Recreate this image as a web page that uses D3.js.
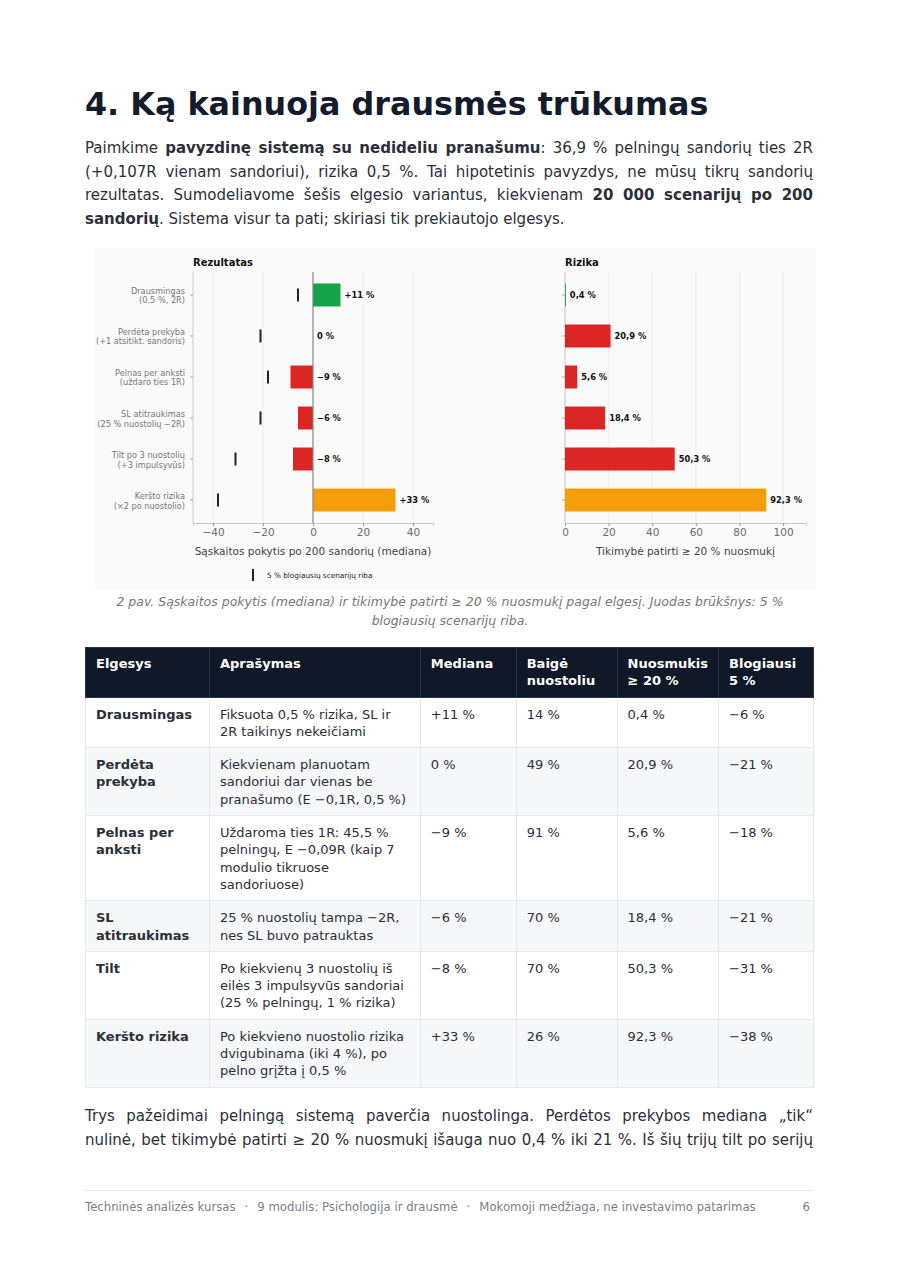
<!DOCTYPE html>
<html lang="lt">
<head>
<meta charset="utf-8">
<script src="https://cdn.jsdelivr.net/npm/d3@7"></script>
<style>
  body { margin: 0; background: #fff; width: 900px; height: 1273px; position: relative;
         font-family: "DejaVu Sans", sans-serif; color: #2b2f38; }
  h1 { position: absolute; left: 85px; top: 85px; margin: 0;
       font-size: 31.8px; font-weight: bold; color: #141b2d; }
  p.txt { position: absolute; left: 85px; width: 728px; margin: 0; font-size: 15px; line-height: 23.5px;
          text-align: justify; }
  #fig { position: absolute; left: 0; top: 248px; }
  .cap { position: absolute; left: 95px; width: 710px; top: 592px; text-align: center; font-style: italic;
         font-size: 12.5px; line-height: 19px; color: #777; }
  table { position: absolute; left: 85px; top: 647px; width: 729px; border-collapse: collapse; font-size: 13px; line-height: 17.3px; }
  th { background: #111827; color: #fff; text-align: left; vertical-align: top; font-weight: bold;
       padding: 7px 10px 7px 10px; border: 1px solid #2c3444; }
  td { vertical-align: top; padding: 8px 10px 7px 10px; border: 1px solid #e5e7eb; }
  tr.alt td { background: #f6f7f9; }
  td.b { font-weight: bold; }
  .foot { position: absolute; left: 85px; width: 728px; top: 1190px; border-top: 1px solid #e5e7eb;
          padding-top: 9px; font-size: 11.7px; color: #7a7f88; }
  .foot span.sep { padding: 0 9px; }
  .foot span.pg { position: absolute; right: 3px; top: 9px; }
</style>
</head>
<body>
<script>
// behaviours (rows of chart and table)
const names = ["Drausmingas", "Perdėta prekyba", "Pelnas per anksti", "SL atitraukimas", "Tilt", "Keršto rizika"];
const chartLabels = [
  ["Drausmingas", "(0.5 %, 2R)"],
  ["Perdėta prekyba", "(+1 atsitikt. sandoris)"],
  ["Pelnas per anksti", "(uždaro ties 1R)"],
  ["SL atitraukimas", "(25 % nuostolių −2R)"],
  ["Tilt po 3 nuostolių", "(+3 impulsyvūs)"],
  ["Keršto rizika", "(×2 po nuostolio)"]
];
const median = [11, 0, -9, -6, -8, 33];          // % account change, median
const worst5 = [-6, -21, -18, -21, -31, -38];     // 5 % worst scenario
const ddProb = [0.4, 20.9, 5.6, 18.4, 50.3, 92.3]; // P(drawdown >= 20 %)
const lossProb = [14, 49, 91, 70, 70, 26];
const barColors = ["#16a34a", "#dc2626", "#dc2626", "#dc2626", "#dc2626", "#f59e0b"];
const leftTicks = [-40, -20, 0, 20, 40];
const rightTicks = [0, 20, 40, 60, 80, 100];
const descr = [
  "Fiksuota 0,5 % rizika, SL ir 2R taikinys nekeičiami",
  "Kiekvienam planuotam sandoriui dar vienas be pranašumo (E −0,1R, 0,5 %)",
  "Uždaroma ties 1R: 45,5 % pelningų, E −0,09R (kaip 7 modulio tikruose sandoriuose)",
  "25 % nuostolių tampa −2R, nes SL buvo patrauktas",
  "Po kiekvienų 3 nuostolių iš eilės 3 impulsyvūs sandoriai (25 % pelningų, 1 % rizika)",
  "Po kiekvieno nuostolio rizika dvigubinama (iki 4 %), po pelno grįžta į 0,5 %"
];
const headers = ["Elgesys", "Aprašymas", "Mediana", "Baigė nuostoliu", "Nuosmukis ≥ 20 %", "Blogiausi 5 %"];
const footParts = ["Techninės analizės kursas", "9 modulis: Psichologija ir drausmė", "Mokomoji medžiaga, ne investavimo patarimas"];

const fmtPct = v => (v > 0 ? "+" : v < 0 ? "−" : "") + Math.abs(v) + " %";
const fmtDec = v => String(v).replace(".", ",") + " %";

const body = d3.select("body");
body.append("h1").text("4. Ką kainuoja drausmės trūkumas");
body.append("p").attr("class", "txt").style("top", "137px")
  .html("Paimkime <b>pavyzdinę sistemą su nedideliu pranašumu</b>: 36,9 % pelningų sandorių ties 2R (+0,107R vienam sandoriui), rizika 0,5 %. Tai hipotetinis pavyzdys, ne mūsų tikrų sandorių rezultatas. Sumodeliavome šešis elgesio variantus, kiekvienam <b>20 000 scenarijų po 200 sandorių</b>. Sistema visur ta pati; skiriasi tik prekiautojo elgesys.");

// ---- figure ----
const svg = body.append("svg").attr("id", "fig").attr("width", 900).attr("height", 345);
svg.append("rect").attr("x", 95).attr("y", 0).attr("width", 721).attr("height", 342).attr("fill", "#fafafa");

const yTop = 24, yBot = 275;
const y = d3.scaleBand().domain(d3.range(names.length)).range([yTop, yBot]).paddingInner(0.44).paddingOuter(0.28);

function panel(x, ticks, title, xlabel) {
  const g = svg.append("g");
  const [x0, x1] = x.range();
  g.selectAll("line.grid").data(ticks).join("line")
    .attr("x1", d => x(d)).attr("x2", d => x(d)).attr("y1", yTop).attr("y2", yBot)
    .attr("stroke", "#ececec").attr("stroke-width", 0.8);
  const ax = g.append("g").attr("transform", `translate(0,${yBot})`)
    .call(d3.axisBottom(x).tickValues(ticks).tickSize(3).tickPadding(3).tickFormat(d => d < 0 ? "−" + (-d) : d));
  ax.select(".domain").attr("stroke", "#c8c8c8");
  ax.selectAll(".tick line").attr("stroke", "#999");
  ax.selectAll("text").attr("fill", "#6b6b6b").attr("font-family", "DejaVu Sans").attr("font-size", 10.5);
  g.append("line").attr("x1", x0).attr("x2", x0).attr("y1", yTop).attr("y2", yBot).attr("stroke", "#c8c8c8");
  g.selectAll("line.yt").data(d3.range(names.length)).join("line")
    .attr("x1", x0 - 3).attr("x2", x0).attr("y1", i => y(i) + y.bandwidth() / 2).attr("y2", i => y(i) + y.bandwidth() / 2)
    .attr("stroke", "#999").attr("stroke-width", 0.8);
  g.append("text").attr("x", x0).attr("y", 18).attr("font-family", "DejaVu Sans").attr("font-weight", "bold")
    .attr("font-size", 10).attr("fill", "#111").text(title);
  g.append("text").attr("x", (x0 + x1) / 2).attr("y", yBot + 32).attr("text-anchor", "middle")
    .attr("font-family", "DejaVu Sans").attr("font-size", 10.5).attr("fill", "#444").text(xlabel);
  return g;
}

// left: median change
const xL = d3.scaleLinear().domain([-48, 48]).range([193, 433]);
const gL = panel(xL, leftTicks, "Rezultatas", "Sąskaitos pokytis po 200 sandorių (mediana)");
gL.selectAll("rect.bar").data(median).join("rect")
  .attr("x", d => xL(Math.min(0, d))).attr("width", d => Math.abs(xL(d) - xL(0)))
  .attr("y", (d, i) => y(i)).attr("height", y.bandwidth()).attr("fill", (d, i) => barColors[i]);
gL.append("line").attr("x1", xL(0)).attr("x2", xL(0)).attr("y1", yTop).attr("y2", yBot).attr("stroke", "#888").attr("stroke-width", 1.2);
gL.selectAll("line.w").data(worst5).join("line")
  .attr("x1", d => xL(d)).attr("x2", d => xL(d))
  .attr("y1", (d, i) => y(i) + y.bandwidth() / 2 - 6.5).attr("y2", (d, i) => y(i) + y.bandwidth() / 2 + 6.5)
  .attr("stroke", "#222").attr("stroke-width", 2);
gL.selectAll("text.v").data(median).join("text")
  .attr("x", d => xL(Math.max(0, d)) + 4).attr("y", (d, i) => y(i) + y.bandwidth() / 2 + 3)
  .attr("font-family", "DejaVu Sans").attr("font-weight", "bold").attr("font-size", 8.3).attr("fill", "#111")
  .text(d => fmtPct(d));
const lab = gL.selectAll("text.yl").data(chartLabels).join("text")
  .attr("text-anchor", "end").attr("font-family", "DejaVu Sans").attr("font-size", 8.2).attr("fill", "#777");
lab.append("tspan").attr("x", 185).attr("y", (d, i) => y(i) + y.bandwidth() / 2 - 1).text(d => d[0]);
lab.append("tspan").attr("x", 185).attr("y", (d, i) => y(i) + y.bandwidth() / 2 + 8.5).text(d => d[1]);

// right: drawdown probability
const xR = d3.scaleLinear().domain([0, 110.5]).range([565, 806]);
const gR = panel(xR, rightTicks, "Rizika", "Tikimybė patirti ≥ 20 % nuosmukį");
gR.selectAll("rect.bar").data(ddProb).join("rect")
  .attr("x", xR(0)).attr("width", d => xR(d) - xR(0))
  .attr("y", (d, i) => y(i)).attr("height", y.bandwidth()).attr("fill", (d, i) => barColors[i]);
gR.selectAll("text.v").data(ddProb).join("text")
  .attr("x", d => xR(d) + 4).attr("y", (d, i) => y(i) + y.bandwidth() / 2 + 3)
  .attr("font-family", "DejaVu Sans").attr("font-weight", "bold").attr("font-size", 8.3).attr("fill", "#111")
  .text(d => fmtDec(d));

// legend
svg.append("line").attr("x1", 253).attr("x2", 253).attr("y1", 321).attr("y2", 333).attr("stroke", "#222").attr("stroke-width", 2);
svg.append("text").attr("x", 267).attr("y", 330).attr("font-family", "DejaVu Sans").attr("font-size", 7.3)
  .attr("fill", "#222").text("5 % blogiausių scenarijų riba");

body.append("div").attr("class", "cap")
  .text("2 pav. Sąskaitos pokytis (mediana) ir tikimybė patirti ≥ 20 % nuosmukį pagal elgesį. Juodas brūkšnys: 5 % blogiausių scenarijų riba.");

// ---- table ----
const colW = [124, 212, 96, 101, 101, 95];
const table = body.append("table");
table.append("colgroup").selectAll("col").data(colW).join("col").style("width", d => d + "px");
table.append("tr").selectAll("th").data(headers).join("th").text(d => d);
names.forEach((n, i) => {
  const tr = table.append("tr").attr("class", i % 2 ? "alt" : null);
  tr.append("td").attr("class", "b").text(n);
  tr.append("td").text(descr[i]);
  tr.append("td").text(fmtPct(median[i]));
  tr.append("td").text(lossProb[i] + " %");
  tr.append("td").text(fmtDec(ddProb[i]));
  tr.append("td").text(fmtPct(worst5[i]));
});

body.append("p").attr("class", "txt").style("top", "1105px").style("text-align-last", "justify")
  .html("Trys pažeidimai pelningą sistemą paverčia nuostolinga. Perdėtos prekybos mediana „tik“<br>nulinė, bet tikimybė patirti ≥ 20 % nuosmukį išauga nuo 0,4 % iki 21 %. Iš šių trijų tilt po serijų");

const foot = body.append("div").attr("class", "foot");
footParts.forEach((t, i) => {
  if (i > 0) foot.append("span").attr("class", "sep").text("·");
  foot.append("span").text(t);
});
foot.append("span").attr("class", "pg").text("6");
</script>
</body>
</html>
